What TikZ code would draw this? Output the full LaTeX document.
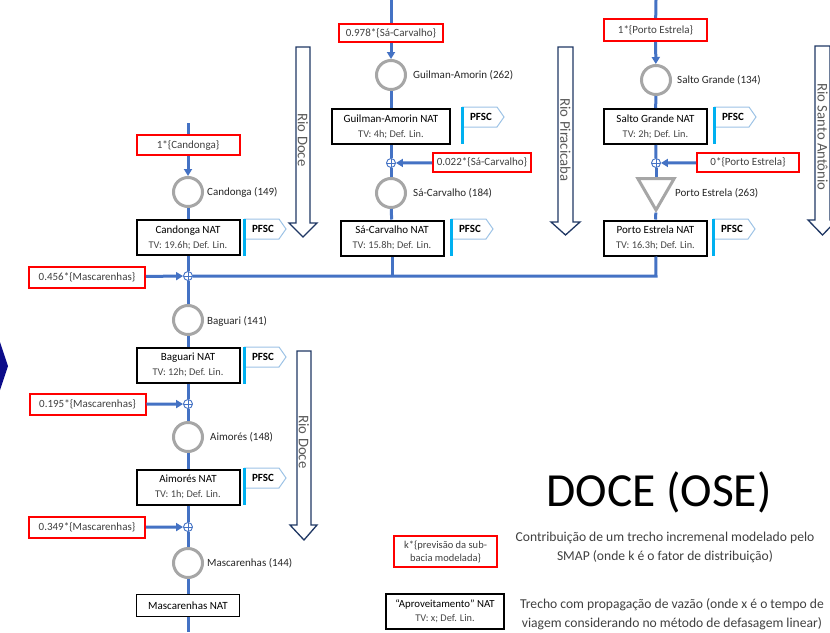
\documentclass[tikz,border=0pt]{standalone}
\usepackage{fontspec}
\setmainfont{Carlito}
\usetikzlibrary{arrows.meta,shapes.geometric}
\definecolor{flowblue}{HTML}{4472C4}
\definecolor{gaugegray}{HTML}{A6A6A6}
\definecolor{pfscbar}{HTML}{00B0F0}
\definecolor{pfscline}{HTML}{9DC3E6}
\definecolor{rionavy}{HTML}{203864}
\definecolor{txtgray}{HTML}{404040}
\definecolor{chevroncol}{HTML}{0C0C8A}
\newcommand{\tvline}[1]{{\fontsize{10.3}{15}\selectfont\color{black!72}#1}}
\tikzset{
  flow/.style={draw=flowblue,line width=3},
  arr/.style={-{Triangle[length=7,width=8]}},
  redbox/.style={draw=red,line width=2,minimum width=116,minimum height=21,inner sep=1,
    font=\fontsize{11}{13}\selectfont,text=txtgray},
  natbox/.style={draw=black,line width=2,minimum width=103,minimum height=35,inner sep=1,
    align=center,font=\fontsize{11}{15}\selectfont,fill=white},
  gauge/.style={circle,draw=gaugegray,line width=3,minimum size=29,inner sep=0,fill=white},
  glabel/.style={anchor=west,font=\fontsize{11}{13}\selectfont,text=black!85,inner sep=0},
  junc/.style={circle,draw=flowblue,fill=white,line width=0.9,minimum size=9,inner sep=0,
    path picture={\draw[flowblue,line width=0.9]
      (path picture bounding box.north) -- (path picture bounding box.south)
      (path picture bounding box.west) -- (path picture bounding box.east);}},
  rioarrow/.style={draw=rionavy,line width=1.3,fill=white,line join=miter},
  riotext/.style={rotate=-90,font=\fontsize{14.7}{16}\selectfont,text=black!65,inner sep=0},
  legtext/.style={align=center,font=\fontsize{13.6}{19}\selectfont,text=txtgray},
  pfsc/.pic={
    \draw[pfscline,line width=1,fill=white] (0,0) -- (35,0) -- (42,10) -- (35,20) -- (0,20);
    \draw[pfscbar,line width=3] (0,0) -- (0,37);
    \node[font=\fontsize{11}{12}\selectfont\bfseries,inner sep=0] (-t) at (19,10) {PFSC};
  }
}
\begin{document}
\begin{tikzpicture}[x=1pt,y=-1pt]
\useasboundingbox (0,0) rectangle (830,632);
\clip (0,0) rectangle (830,632);
\fill[white] (0,0) rectangle (830,632);

% left chevron fragment
\fill[chevroncol] (0,342) -- (8,366) -- (0,390) -- cycle;

% river direction arrows
\draw[rioarrow] (296,47) -- (310,47) -- (310,223) -- (317,223) -- (303,237) -- (289,223) -- (296,223) -- cycle;
\node[riotext] (rioDoceA) at (303,140) {Rio Doce};
\draw[rioarrow] (558,47) -- (573,47) -- (573,222) -- (580,222) -- (565.5,235) -- (551,222) -- (558,222) -- cycle;
\node[riotext] (rioPir) at (565.5,140) {Rio Piracicaba};
\draw[rioarrow] (815,46) -- (830,46) -- (830,220) -- (837,220) -- (822.5,235) -- (808,220) -- (815,220) -- cycle;
\node[riotext] (rioSA) at (822.5,137) {Rio Santo Antônio};
\draw[rioarrow] (297,351) -- (311,351) -- (311,525) -- (317,525) -- (304,540) -- (290,525) -- (297,525) -- cycle;
\node[riotext] (rioDoceB) at (304,442) {Rio Doce};

% ---------- Rio Doce column ----------
\coordinate (topDoce) at (188,123);
\node[redbox,minimum width=103,minimum height=20] (rCan) at (188,145) {1*\{Candonga\}};
\node[gauge] (cCan) at (188,192) {};
\node[glabel] (lCan) at (207,192) {Candonga (149)};
\node[natbox] (nCan) at (188,237.5) {Candonga NAT\\\tvline{TV: 19.6h; Def. Lin.}};
\pic (pCan) at (244,219) {pfsc};
\node[junc] (j1) at (188,276) {};
\node[redbox] (r456) at (87,277) {0.456*\{Mascarenhas\}};

\node[gauge] (cBag) at (188,320) {};
\node[glabel] (lBag) at (207,321) {Baguari (141)};
\node[natbox] (nBag) at (188,365) {Baguari NAT\\\tvline{TV: 12h; Def. Lin.}};
\pic (pBag) at (244,347) {pfsc};
\node[junc] (j2) at (188,404) {};
\node[redbox] (r195) at (87.5,404.5) {0.195*\{Mascarenhas\}};

\node[gauge] (cAim) at (188,437) {};
\node[glabel] (lAim) at (210,437) {Aimorés (148)};
\node[natbox] (nAim) at (188,487) {Aimorés NAT\\\tvline{TV: 1h; Def. Lin.}};
\pic (pAim) at (244,468) {pfsc};
\node[junc] (j3) at (188,527) {};
\node[redbox] (r349) at (87,527.5) {0.349*\{Mascarenhas\}};

\node[gauge] (cMas) at (188,563) {};
\node[glabel] (lMas) at (207,563) {Mascarenhas (144)};
\node[natbox,line width=1,minimum height=22,font=\fontsize{11}{13}\selectfont] (nMas) at (188,605.5) {Mascarenhas NAT};
\coordinate (botDoce) at (188,632);

% ---------- Rio Piracicaba column ----------
\coordinate (topPir) at (391,0);
\node[redbox,minimum width=104,minimum height=18] (rSC1) at (391,33) {0.978*\{Sá-Carvalho\}};
\node[gauge] (cGui) at (391,75) {};
\node[glabel] (lGui) at (413,75) {Guilman-Amorin (262)};
\node[natbox,minimum width=118] (nGui) at (391,126.5) {Guilman-Amorin NAT\\\tvline{TV: 4h; Def. Lin.}};
\pic (pGui) at (462,107) {pfsc};
\node[junc] (j4) at (391,163) {};
\node[redbox,minimum width=98,minimum height=19] (rSC2) at (482,162.5) {0.022*\{Sá-Carvalho\}};
\node[gauge] (cSC) at (391,193) {};
\node[glabel] (lSC) at (413,193) {Sá-Carvalho (184)};
\node[natbox] (nSC) at (392,238) {Sá-Carvalho NAT\\\tvline{TV: 15.8h; Def. Lin.}};
\pic (pSC) at (451,219) {pfsc};

% ---------- Rio Santo Antonio column ----------
\coordinate (topSA) at (656,0);
\node[redbox,minimum width=103,minimum height=22] (rPE1) at (655.5,30) {1*\{Porto Estrela\}};
\node[gauge] (cSG) at (656,80) {};
\node[glabel] (lSG) at (677,80) {Salto Grande (134)};
\node[natbox] (nSG) at (655.5,126.5) {Salto Grande NAT\\\tvline{TV: 2h; Def. Lin.}};
\pic (pSG) at (714,107) {pfsc};
\node[junc] (j5) at (656,163) {};
\node[redbox,minimum width=102,minimum height=19] (rPE2) at (748,162.5) {0*\{Porto Estrela\}};
\node[regular polygon,regular polygon sides=3,shape border rotate=180,draw=gaugegray,
  line width=3,fill=white,minimum size=42,inner sep=0] (tPE) at (656,189) {};
\node[glabel] (lPE) at (675,193) {Porto Estrela (263)};
\node[natbox] (nPE) at (655.5,238) {Porto Estrela NAT\\\tvline{TV: 16.3h; Def. Lin.}};
\pic (pPE) at (713,219) {pfsc};

% ---------- connectors ----------
\coordinate (trunkEnd) at (656,276);
\draw[flow] (topDoce) -- (rCan);
\draw[flow,arr] (rCan) -- (cCan);
\draw[flow] (cCan) -- (nCan);
\draw[flow] (nCan) -- (j1);
\draw[flow,arr] (r456) -- (j1);
\draw[flow] (j1) -- (trunkEnd) -- (nPE);
\draw[flow] (nSC) -- (nSC |- trunkEnd);
\draw[flow] (j1) -- (cBag);
\draw[flow] (cBag) -- (nBag);
\draw[flow] (nBag) -- (j2);
\draw[flow,arr] (r195) -- (j2);
\draw[flow] (j2) -- (cAim);
\draw[flow] (cAim) -- (nAim);
\draw[flow] (nAim) -- (j3);
\draw[flow,arr] (r349) -- (j3);
\draw[flow] (j3) -- (cMas);
\draw[flow] (cMas) -- (nMas);
\draw[flow] (nMas) -- (botDoce);

\draw[flow] (topPir) -- (rSC1);
\draw[flow,arr] (rSC1) -- (cGui);
\draw[flow] (cGui) -- (nGui);
\draw[flow] (nGui) -- (j4);
\draw[flow,arr] (rSC2) -- (j4);
\draw[flow] (j4) -- (cSC);
\draw[flow] (cSC) -- (nSC);

\draw[flow] (topSA) -- (rPE1);
\draw[flow,arr] (rPE1) -- (cSG);
\draw[flow] (cSG) -- (nSG);
\draw[flow] (nSG) -- (j5);
\draw[flow,arr] (rPE2) -- (j5);
\draw[flow] (j5) -- (tPE);
\draw[flow] (tPE) -- (nPE);

% ---------- title and legend ----------
\node[font=\fontsize{47.5}{50}\selectfont,inner sep=0] (title) at (659,492) {DOCE (OSE)};
\node[redbox,minimum width=103,minimum height=31,align=center,font=\fontsize{10.5}{13}\selectfont] (legR) at (445.5,551.5) {k*\{previsão da sub-\\bacia modelada\}};
\node[legtext] (legRt) at (665,547.5) {Contribuição de um trecho incremenal modelado pelo\\SMAP (onde k é o fator de distribuição)};
\node[natbox,minimum width=118,minimum height=35,font=\fontsize{10.8}{14}\selectfont] (legN) at (445,611.5) {“Aproveitamento” NAT\\\tvline{TV: x; Def. Lin.}};
\node[legtext] (legNt) at (672,614) {Trecho com propagação de vazão (onde x é o tempo de\\viagem considerando no método de defasagem linear)};
\end{tikzpicture}
\end{document}
